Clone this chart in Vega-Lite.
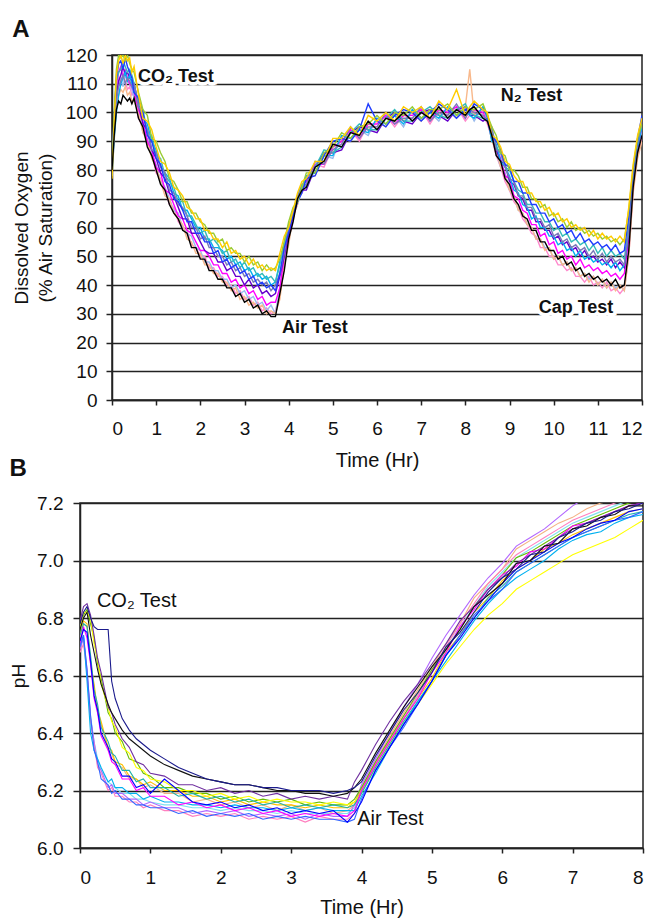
{
"$schema":"https://vega.github.io/schema/vega-lite/v6.json",
"background":"white",
"padding":{"left":8,"top":17,"right":0,"bottom":0},
"spacing":-15,
"resolve":{"scale":{"color":"independent"}},
"config":{
 "font":"Liberation Sans",
 "view":{"stroke":"#222","strokeWidth":1.5},
 "axis":{"domainColor":"#222","domainWidth":1.5,"tickColor":"#222","tickWidth":1.5,"gridColor":"#222","gridWidth":1.5,"gridOpacity":1,"labelColor":"#111","titleColor":"#111","labelFont":"Liberation Sans","titleFont":"Liberation Sans","titleFontWeight":"normal","labelFontSize":19,"titleFontSize":20},
 "title":{"anchor":"start","fontSize":24,"fontWeight":"bold","font":"Liberation Sans","color":"#111"}
},
"datasets":{
"doA":[
{"t":0,"k":80,"pe":78,"pk":79,"lb":82,"mg":81,"vi":80,"bl":83,"sl":79,"cy":78,"te":82,"gr":80,"go":77},
{"t":0.05,"k":92,"pe":90,"pk":95,"lb":96,"mg":98,"vi":94,"bl":99,"sl":93,"cy":91,"te":97,"gr":100,"go":96},
{"t":0.1,"k":101,"pe":103,"pk":107,"lb":108,"mg":110,"vi":106,"bl":112,"sl":104,"cy":100,"te":111,"gr":115,"go":113},
{"t":0.15,"k":104,"pe":106,"pk":112,"lb":110,"mg":114,"vi":111,"bl":117,"sl":109,"cy":106,"te":114,"gr":120,"go":118},
{"t":0.2,"k":103,"pe":108,"pk":110,"lb":112,"mg":116,"vi":113,"bl":118,"sl":111,"cy":110,"te":115,"gr":119,"go":120},
{"t":0.25,"k":106,"pe":107,"pk":113,"lb":109,"mg":112,"vi":116,"bl":115,"sl":113,"cy":112,"te":118,"gr":120,"go":117},
{"t":0.3,"k":105,"pe":109,"pk":111,"lb":113,"mg":115,"vi":113,"bl":119,"sl":110,"cy":114,"te":116,"gr":118,"go":120},
{"t":0.35,"k":104,"pe":106,"pk":108,"lb":111,"mg":112,"vi":114,"bl":116,"sl":112,"cy":111,"te":114,"gr":120,"go":118},
{"t":0.4,"k":105,"pe":107,"pk":109,"lb":110,"mg":110,"vi":112,"bl":114,"sl":111,"cy":113,"te":115,"gr":117,"go":119},
{"t":0.45,"k":103,"pe":104,"pk":106,"lb":108,"mg":109,"vi":111,"bl":112,"sl":109,"cy":110,"te":113,"gr":115,"go":114},
{"t":0.5,"k":105,"pe":104,"pk":107,"lb":105,"mg":107,"vi":110,"bl":107,"sl":110,"cy":107,"te":110,"gr":114,"go":116},
{"t":0.6,"k":98,"pe":100,"pk":98,"lb":102,"mg":101,"vi":103,"bl":105,"sl":102,"cy":105,"te":102,"gr":107,"go":106},
{"t":0.7,"k":95,"pe":93,"pk":95,"lb":93,"mg":97,"vi":96,"bl":100,"sl":99,"cy":98,"te":101,"gr":101,"go":98},
{"t":0.8,"k":88,"pe":90,"pk":89,"lb":91,"mg":90,"vi":94,"bl":92,"sl":94,"cy":96,"te":93,"gr":99,"go":97},
{"t":0.9,"k":85,"pe":84,"pk":86,"lb":85,"mg":87,"vi":87,"bl":90,"sl":87,"cy":90,"te":92,"gr":91,"go":94},
{"t":1.0,"k":80,"pe":81,"pk":79,"lb":82,"mg":81,"vi":84,"bl":84,"sl":86,"cy":87,"te":85,"gr":90,"go":88},
{"t":1.1,"k":75,"pe":76,"pk":77,"lb":76,"mg":79,"vi":79,"bl":82,"sl":81,"cy":81,"te":84,"gr":86,"go":83},
{"t":1.2,"k":73,"pe":71,"pk":73,"lb":74,"mg":73,"vi":77,"bl":76,"sl":79,"cy":79,"te":78,"gr":83,"go":82},
{"t":1.3,"k":68,"pe":70,"pk":68,"lb":70,"mg":72,"vi":72,"bl":75,"sl":73,"cy":77,"te":76,"gr":77,"go":79},
{"t":1.4,"k":65,"pe":65,"pk":67,"lb":66,"mg":68,"vi":71,"bl":70,"sl":72,"cy":72,"te":74,"gr":76,"go":74},
{"t":1.5,"k":63,"pe":63,"pk":62,"lb":65,"mg":64,"vi":67,"bl":69,"sl":68,"cy":71,"te":69,"gr":73,"go":73},
{"t":1.6,"k":59,"pe":61,"pk":60,"lb":60,"mg":63,"vi":63,"bl":66,"sl":67,"cy":66,"te":69,"gr":69,"go":71},
{"t":1.7,"k":58,"pe":56,"pk":59,"lb":58,"mg":59,"vi":63,"bl":62,"sl":64,"cy":66,"te":64,"gr":69,"go":67},
{"t":1.8,"k":53,"pe":55,"pk":54,"lb":57,"mg":58,"vi":58,"bl":62,"sl":60,"cy":63,"te":64,"gr":65,"go":66},
{"t":1.9,"k":53,"pe":51,"pk":53,"lb":53,"mg":55,"vi":58,"bl":58,"sl":60,"cy":60,"te":61,"gr":65,"go":63},
{"t":2.0,"k":49,"pe":51,"pk":50,"lb":52,"mg":52,"vi":55,"bl":58,"sl":56,"cy":60,"te":58,"gr":62,"go":63},
{"t":2.1,"k":49,"pe":47,"pk":50,"lb":48,"mg":52,"vi":52,"bl":55,"sl":57,"cy":56,"te":59,"gr":61,"go":59},
{"t":2.2,"k":45,"pe":47,"pk":46,"lb":48,"mg":50,"vi":51,"bl":55,"sl":53,"cy":56,"te":55,"gr":58,"go":59},
{"t":2.3,"k":45,"pe":44,"pk":46,"lb":45,"mg":47,"vi":51,"bl":51,"sl":53,"cy":53,"te":56,"gr":58,"go":56},
{"t":2.4,"k":42,"pe":44,"pk":43,"lb":45,"mg":47,"vi":48,"bl":52,"sl":50,"cy":53,"te":54,"gr":55,"go":56},
{"t":2.5,"k":42,"pe":41,"pk":43,"lb":42,"mg":44,"vi":48,"bl":48,"sl":50,"cy":52,"te":51,"gr":56,"go":53},
{"t":2.6,"k":39,"pe":41,"pk":40,"lb":42,"mg":44,"vi":45,"bl":49,"sl":47,"cy":49,"te":52,"gr":52,"go":55},
{"t":2.7,"k":39,"pe":38,"pk":40,"lb":39,"mg":41,"vi":46,"bl":46,"sl":48,"cy":50,"te":48,"gr":53,"go":51},
{"t":2.8,"k":36,"pe":39,"pk":37,"lb":40,"mg":42,"vi":43,"bl":47,"sl":45,"cy":47,"te":49,"gr":51,"go":52},
{"t":2.9,"k":37,"pe":35,"pk":38,"lb":37,"mg":39,"vi":43,"bl":44,"sl":46,"cy":48,"te":46,"gr":51,"go":49},
{"t":3.0,"k":34,"pe":36,"pk":35,"lb":38,"mg":40,"vi":40,"bl":45,"sl":43,"cy":45,"te":48,"gr":48,"go":50},
{"t":3.1,"k":35,"pe":33,"pk":36,"lb":35,"mg":37,"vi":42,"bl":42,"sl":44,"cy":46,"te":45,"gr":50,"go":47},
{"t":3.2,"k":32,"pe":34,"pk":33,"lb":36,"mg":38,"vi":39,"bl":43,"sl":41,"cy":43,"te":46,"gr":47,"go":49},
{"t":3.3,"k":33,"pe":32,"pk":34,"lb":33,"mg":35,"vi":40,"bl":40,"sl":42,"cy":44,"te":43,"gr":48,"go":46},
{"t":3.4,"k":30,"pe":33,"pk":31,"lb":34,"mg":36,"vi":37,"bl":41,"sl":40,"cy":42,"te":44,"gr":45,"go":47},
{"t":3.5,"k":31,"pe":30,"pk":32,"lb":31,"mg":33,"vi":38,"bl":39,"sl":41,"cy":43,"te":42,"gr":47,"go":45},
{"t":3.6,"k":29,"pe":31,"pk":30,"lb":33,"mg":34,"vi":36,"bl":40,"sl":38,"cy":40,"te":43,"gr":45,"go":46},
{"t":3.7,"k":29,"pe":30,"pk":31,"lb":30,"mg":34,"vi":37,"bl":38,"sl":40,"cy":41,"te":41,"gr":46,"go":45},
{"t":3.8,"k":37,"pe":35,"pk":37,"lb":39,"mg":39,"vi":43,"bl":44,"sl":44,"cy":48,"te":47,"gr":49,"go":51},
{"t":3.9,"k":45,"pe":47,"pk":46,"lb":48,"mg":50,"vi":50,"bl":53,"sl":51,"cy":54,"te":55,"gr":55,"go":57},
{"t":4.0,"k":56,"pe":54,"pk":56,"lb":55,"mg":57,"vi":59,"bl":58,"sl":60,"cy":59,"te":61,"gr":62,"go":60},
{"t":4.1,"k":62,"pe":64,"pk":63,"lb":64,"mg":63,"vi":65,"bl":64,"sl":65,"cy":66,"te":64,"gr":67,"go":66},
{"t":4.2,"k":70,"pe":68,"pk":70,"lb":68,"mg":70,"vi":69,"bl":69,"sl":71,"cy":69,"te":71,"gr":69,"go":72},
{"t":4.3,"k":73,"pe":74,"pk":72,"lb":73,"mg":75,"vi":73,"bl":72,"sl":74,"cy":73,"te":75,"gr":74,"go":76},
{"t":4.4,"k":74,"pe":77,"pk":75,"lb":78,"mg":76,"vi":73,"bl":77,"sl":75,"cy":78,"te":74,"gr":79,"go":77},
{"t":4.6,"k":81,"pe":78,"pk":82,"lb":79,"mg":82,"vi":81,"bl":78,"sl":83,"cy":79,"te":81,"gr":79,"go":83},
{"t":4.8,"k":83,"pe":86,"pk":81,"lb":85,"mg":82,"vi":86,"bl":85,"sl":82,"cy":85,"te":87,"gr":86,"go":83},
{"t":5.0,"k":89,"pe":86,"pk":88,"lb":84,"mg":88,"vi":86,"bl":90,"sl":87,"cy":85,"te":86,"gr":88,"go":91},
{"t":5.2,"k":88,"pe":91,"pk":89,"lb":92,"mg":90,"vi":87,"bl":91,"sl":89,"cy":92,"te":88,"gr":93,"go":91},
{"t":5.4,"k":93,"pe":90,"pk":94,"lb":91,"mg":94,"vi":93,"bl":90,"sl":95,"cy":91,"te":93,"gr":91,"go":95},
{"t":5.6,"k":92,"pe":95,"pk":90,"lb":94,"mg":91,"vi":95,"bl":94,"sl":91,"cy":94,"te":96,"gr":95,"go":92},
{"t":5.8,"k":97,"pe":94,"pk":96,"lb":92,"mg":96,"vi":94,"bl":103,"sl":95,"cy":93,"te":94,"gr":96,"go":99},
{"t":6.0,"k":94,"pe":97,"pk":95,"lb":98,"mg":96,"vi":93,"bl":97,"sl":95,"cy":98,"te":94,"gr":99,"go":97},
{"t":6.2,"k":98,"pe":95,"pk":99,"lb":96,"mg":99,"vi":98,"bl":95,"sl":100,"cy":96,"te":98,"gr":96,"go":100},
{"t":6.4,"k":97,"pe":100,"pk":95,"lb":99,"mg":96,"vi":100,"bl":99,"sl":96,"cy":99,"te":101,"gr":100,"go":97},
{"t":6.6,"k":100,"pe":97,"pk":99,"lb":95,"mg":99,"vi":97,"bl":101,"sl":98,"cy":96,"te":97,"gr":99,"go":102},
{"t":6.8,"k":97,"pe":100,"pk":98,"lb":101,"mg":99,"vi":96,"bl":100,"sl":98,"cy":101,"te":97,"gr":102,"go":100},
{"t":7.0,"k":100,"pe":97,"pk":101,"lb":98,"mg":101,"vi":100,"bl":97,"sl":102,"cy":98,"te":100,"gr":98,"go":102},
{"t":7.2,"k":98,"pe":101,"pk":96,"lb":100,"mg":97,"vi":101,"bl":100,"sl":97,"cy":100,"te":102,"gr":101,"go":98},
{"t":7.4,"k":102,"pe":99,"pk":101,"lb":97,"mg":101,"vi":99,"bl":103,"sl":100,"cy":98,"te":99,"gr":101,"go":104},
{"t":7.6,"k":98,"pe":101,"pk":99,"lb":102,"mg":100,"vi":97,"bl":101,"sl":99,"cy":102,"te":98,"gr":103,"go":101},
{"t":7.8,"k":101,"pe":98,"pk":102,"lb":99,"mg":102,"vi":101,"bl":98,"sl":103,"cy":99,"te":101,"gr":99,"go":108},
{"t":8.0,"k":99,"pe":102,"pk":97,"lb":101,"mg":98,"vi":102,"bl":101,"sl":98,"cy":101,"te":103,"gr":102,"go":99},
{"t":8.1,"k":101,"pe":115,"pk":99,"lb":100,"mg":101,"vi":99,"bl":100,"sl":101,"cy":99,"te":100,"gr":101,"go":102},
{"t":8.2,"k":102,"pe":99,"pk":101,"lb":97,"mg":101,"vi":99,"bl":103,"sl":100,"cy":98,"te":99,"gr":101,"go":104},
{"t":8.4,"k":98,"pe":101,"pk":99,"lb":102,"mg":100,"vi":97,"bl":101,"sl":99,"cy":102,"te":98,"gr":103,"go":101},
{"t":8.5,"k":97,"pe":98,"pk":96,"lb":99,"mg":97,"vi":98,"bl":99,"sl":97,"cy":98,"te":97,"gr":99,"go":100},
{"t":8.6,"k":92,"pe":90,"pk":91,"lb":93,"mg":91,"vi":93,"bl":92,"sl":95,"cy":90,"te":94,"gr":95,"go":92},
{"t":8.7,"k":85,"pe":87,"pk":85,"lb":86,"mg":88,"vi":87,"bl":90,"sl":87,"cy":89,"te":88,"gr":92,"go":91},
{"t":8.8,"k":83,"pe":81,"pk":81,"lb":81,"mg":84,"vi":83,"bl":87,"sl":86,"cy":83,"te":86,"gr":86,"go":88},
{"t":8.9,"k":77,"pe":78,"pk":76,"lb":79,"mg":78,"vi":82,"bl":82,"sl":81,"cy":81,"te":81,"gr":85,"go":83},
{"t":9.0,"k":75,"pe":73,"pk":73,"lb":73,"mg":77,"vi":76,"bl":81,"sl":77,"cy":78,"te":80,"gr":80,"go":82},
{"t":9.1,"k":70,"pe":71,"pk":69,"lb":71,"mg":71,"vi":75,"bl":76,"sl":76,"cy":73,"te":76,"gr":80,"go":78},
{"t":9.2,"k":68,"pe":66,"pk":67,"lb":66,"mg":70,"vi":71,"bl":76,"sl":71,"cy":72,"te":73,"gr":78,"go":76},
{"t":9.3,"k":64,"pe":65,"pk":63,"lb":65,"mg":66,"vi":70,"bl":72,"sl":71,"cy":68,"te":72,"gr":74,"go":76},
{"t":9.4,"k":63,"pe":61,"pk":61,"lb":61,"mg":65,"vi":66,"bl":72,"sl":67,"cy":67,"te":68,"gr":74,"go":72},
{"t":9.5,"k":59,"pe":60,"pk":58,"lb":60,"mg":61,"vi":66,"bl":68,"sl":67,"cy":63,"te":68,"gr":70,"go":72},
{"t":9.6,"k":59,"pe":56,"pk":57,"lb":56,"mg":61,"vi":62,"bl":68,"sl":63,"cy":64,"te":65,"gr":70,"go":69},
{"t":9.7,"k":55,"pe":56,"pk":53,"lb":56,"mg":57,"vi":62,"bl":65,"sl":63,"cy":60,"te":65,"gr":67,"go":69},
{"t":9.8,"k":55,"pe":52,"pk":53,"lb":53,"mg":58,"vi":59,"bl":65,"sl":60,"cy":60,"te":62,"gr":68,"go":66},
{"t":9.9,"k":52,"pe":53,"pk":50,"lb":53,"mg":54,"vi":59,"bl":62,"sl":61,"cy":57,"te":62,"gr":64,"go":67},
{"t":10.0,"k":52,"pe":49,"pk":50,"lb":49,"mg":55,"vi":56,"bl":63,"sl":57,"cy":57,"te":59,"gr":65,"go":64},
{"t":10.1,"k":49,"pe":50,"pk":47,"lb":50,"mg":51,"vi":57,"bl":60,"sl":58,"cy":54,"te":60,"gr":62,"go":65},
{"t":10.2,"k":50,"pe":47,"pk":47,"lb":47,"mg":52,"vi":54,"bl":61,"sl":55,"cy":55,"te":57,"gr":63,"go":62},
{"t":10.3,"k":47,"pe":48,"pk":45,"lb":48,"mg":49,"vi":55,"bl":58,"sl":56,"cy":52,"te":58,"gr":60,"go":63},
{"t":10.4,"k":48,"pe":45,"pk":46,"lb":45,"mg":50,"vi":52,"bl":59,"sl":53,"cy":53,"te":55,"gr":62,"go":60},
{"t":10.5,"k":45,"pe":46,"pk":43,"lb":46,"mg":47,"vi":53,"bl":56,"sl":54,"cy":50,"te":56,"gr":59,"go":61},
{"t":10.6,"k":46,"pe":43,"pk":43,"lb":43,"mg":49,"vi":50,"bl":58,"sl":52,"cy":52,"te":54,"gr":60,"go":59},
{"t":10.7,"k":43,"pe":44,"pk":41,"lb":44,"mg":46,"vi":52,"bl":55,"sl":53,"cy":49,"te":55,"gr":58,"go":60},
{"t":10.8,"k":44,"pe":41,"pk":43,"lb":42,"mg":47,"vi":49,"bl":56,"sl":50,"cy":50,"te":52,"gr":59,"go":57},
{"t":10.9,"k":42,"pe":43,"pk":40,"lb":43,"mg":45,"vi":50,"bl":54,"sl":52,"cy":48,"te":54,"gr":57,"go":59},
{"t":11.0,"k":43,"pe":40,"pk":41,"lb":40,"mg":46,"vi":48,"bl":55,"sl":49,"cy":49,"te":51,"gr":58,"go":56},
{"t":11.1,"k":41,"pe":42,"pk":39,"lb":42,"mg":44,"vi":49,"bl":53,"sl":51,"cy":47,"te":53,"gr":56,"go":58},
{"t":11.2,"k":42,"pe":39,"pk":41,"lb":39,"mg":45,"vi":47,"bl":54,"sl":48,"cy":48,"te":50,"gr":57,"go":56},
{"t":11.3,"k":40,"pe":41,"pk":38,"lb":41,"mg":43,"vi":49,"bl":52,"sl":50,"cy":46,"te":52,"gr":55,"go":57},
{"t":11.4,"k":42,"pe":38,"pk":39,"lb":39,"mg":44,"vi":46,"bl":54,"sl":48,"cy":48,"te":50,"gr":56,"go":55},
{"t":11.5,"k":39,"pe":40,"pk":37,"lb":40,"mg":42,"vi":48,"bl":51,"sl":49,"cy":45,"te":51,"gr":54,"go":57},
{"t":11.6,"k":40,"pe":38,"pk":39,"lb":38,"mg":44,"vi":46,"bl":52,"sl":47,"cy":47,"te":49,"gr":56,"go":55},
{"t":11.7,"k":52,"pe":50,"pk":50,"lb":51,"mg":56,"vi":58,"bl":64,"sl":59,"cy":59,"te":61,"gr":66,"go":67},
{"t":11.8,"k":74,"pe":72,"pk":73,"lb":75,"mg":76,"vi":77,"bl":80,"sl":78,"cy":77,"te":79,"gr":81,"go":82},
{"t":11.9,"k":86,"pe":84,"pk":85,"lb":87,"mg":88,"vi":88,"bl":91,"sl":89,"cy":88,"te":90,"gr":91,"go":92},
{"t":12.0,"k":92,"pe":90,"pk":91,"lb":94,"mg":95,"vi":96,"bl":99,"sl":97,"cy":95,"te":97,"gr":96,"go":98}
],
"phB":[
{"t":0,"nv":6.78,"bk":6.76,"dp":6.79,"vi":6.69,"pe":6.73,"pk":6.68,"mg":6.71,"bl":6.72,"ro":6.70,"cy":6.71,"lc":6.70,"te":6.74,"gr":6.77,"ye":6.76,"go":6.74},
{"t":0.05,"nv":6.82,"bk":6.80,"dp":6.84,"vi":6.73,"pe":6.78,"pk":6.71,"mg":6.77,"bl":6.76,"ro":6.74,"cy":6.74,"lc":6.73,"te":6.78,"gr":6.81,"ye":6.82,"go":6.79},
{"t":0.1,"nv":6.84,"bk":6.82,"dp":6.85,"vi":6.62,"pe":6.77,"pk":6.61,"mg":6.73,"bl":6.75,"ro":6.62,"cy":6.58,"lc":6.60,"te":6.77,"gr":6.83,"ye":6.82,"go":6.78},
{"t":0.15,"nv":6.80,"bk":6.74,"dp":6.81,"vi":6.45,"pe":6.64,"pk":6.44,"mg":6.64,"bl":6.65,"ro":6.46,"cy":6.40,"lc":6.46,"te":6.67,"gr":6.78,"ye":6.80,"go":6.65},
{"t":0.2,"nv":6.77,"bk":6.68,"dp":6.74,"vi":6.37,"pe":6.56,"pk":6.36,"mg":6.52,"bl":6.53,"ro":6.34,"cy":6.34,"lc":6.37,"te":6.55,"gr":6.73,"ye":6.71,"go":6.57},
{"t":0.25,"nv":6.76,"bk":6.62,"dp":6.66,"vi":6.29,"pe":6.47,"pk":6.28,"mg":6.47,"bl":6.48,"ro":6.30,"cy":6.31,"lc":6.31,"te":6.50,"gr":6.64,"ye":6.66,"go":6.48},
{"t":0.3,"nv":6.76,"bk":6.57,"dp":6.61,"vi":6.27,"pe":6.43,"pk":6.26,"mg":6.39,"bl":6.40,"ro":6.24,"cy":6.28,"lc":6.27,"te":6.42,"gr":6.59,"ye":6.57,"go":6.44},
{"t":0.4,"nv":6.76,"bk":6.50,"dp":6.49,"vi":6.21,"pe":6.34,"pk":6.20,"mg":6.34,"bl":6.35,"ro":6.22,"cy":6.23,"lc":6.23,"te":6.37,"gr":6.47,"ye":6.49,"go":6.35},
{"t":0.45,"nv":6.58,"bk":6.47,"dp":6.47,"vi":6.22,"pe":6.33,"pk":6.21,"mg":6.30,"bl":6.31,"ro":6.19,"cy":6.24,"lc":6.22,"te":6.33,"gr":6.45,"ye":6.44,"go":6.34},
{"t":0.5,"nv":6.52,"bk":6.45,"dp":6.43,"vi":6.19,"pe":6.29,"pk":6.18,"mg":6.29,"bl":6.30,"ro":6.20,"cy":6.21,"lc":6.21,"te":6.32,"gr":6.40,"ye":6.42,"go":6.30},
{"t":0.6,"nv":6.45,"bk":6.41,"dp":6.38,"vi":6.19,"pe":6.28,"pk":6.18,"mg":6.24,"bl":6.25,"ro":6.17,"cy":6.21,"lc":6.19,"te":6.27,"gr":6.37,"ye":6.35,"go":6.29},
{"t":0.7,"nv":6.41,"bk":6.38,"dp":6.35,"vi":6.17,"pe":6.24,"pk":6.16,"mg":6.24,"bl":6.25,"ro":6.17,"cy":6.19,"lc":6.19,"te":6.27,"gr":6.31,"ye":6.33,"go":6.25},
{"t":0.8,"nv":6.38,"bk":6.36,"dp":6.30,"vi":6.17,"pe":6.24,"pk":6.16,"mg":6.20,"bl":6.21,"ro":6.15,"cy":6.19,"lc":6.17,"te":6.23,"gr":6.30,"ye":6.28,"go":6.24},
{"t":0.9,"nv":6.36,"bk":6.34,"dp":6.29,"vi":6.15,"pe":6.21,"pk":6.14,"mg":6.21,"bl":6.22,"ro":6.15,"cy":6.17,"lc":6.17,"te":6.24,"gr":6.26,"ye":6.27,"go":6.22},
{"t":1.0,"nv":6.34,"bk":6.32,"dp":6.26,"vi":6.16,"pe":6.22,"pk":6.15,"mg":6.18,"bl":6.19,"ro":6.14,"cy":6.18,"lc":6.16,"te":6.21,"gr":6.25,"ye":6.24,"go":6.23},
{"t":1.2,"nv":6.31,"bk":6.29,"dp":6.25,"vi":6.14,"pe":6.19,"pk":6.13,"mg":6.18,"bl":6.24,"ro":6.14,"cy":6.16,"lc":6.15,"te":6.21,"gr":6.21,"ye":6.23,"go":6.20},
{"t":1.4,"nv":6.28,"bk":6.27,"dp":6.22,"vi":6.14,"pe":6.19,"pk":6.13,"mg":6.15,"bl":6.20,"ro":6.12,"cy":6.16,"lc":6.15,"te":6.18,"gr":6.21,"ye":6.20,"go":6.20},
{"t":1.6,"nv":6.26,"bk":6.25,"dp":6.22,"vi":6.12,"pe":6.16,"pk":6.11,"mg":6.16,"bl":6.16,"ro":6.13,"cy":6.15,"lc":6.14,"te":6.19,"gr":6.19,"ye":6.20,"go":6.18},
{"t":1.8,"nv":6.24,"bk":6.24,"dp":6.20,"vi":6.13,"pe":6.17,"pk":6.12,"mg":6.14,"bl":6.15,"ro":6.11,"cy":6.15,"lc":6.14,"te":6.17,"gr":6.19,"ye":6.18,"go":6.18},
{"t":2.0,"nv":6.23,"bk":6.23,"dp":6.21,"vi":6.12,"pe":6.15,"pk":6.11,"mg":6.15,"bl":6.16,"ro":6.12,"cy":6.14,"lc":6.13,"te":6.18,"gr":6.17,"ye":6.19,"go":6.16},
{"t":2.2,"nv":6.22,"bk":6.22,"dp":6.19,"vi":6.13,"pe":6.16,"pk":6.12,"mg":6.13,"bl":6.14,"ro":6.11,"cy":6.15,"lc":6.14,"te":6.16,"gr":6.18,"ye":6.17,"go":6.17},
{"t":2.4,"nv":6.22,"bk":6.22,"dp":6.20,"vi":6.11,"pe":6.14,"pk":6.10,"mg":6.14,"bl":6.15,"ro":6.12,"cy":6.14,"lc":6.13,"te":6.17,"gr":6.16,"ye":6.18,"go":6.15},
{"t":2.6,"nv":6.21,"bk":6.21,"dp":6.18,"vi":6.12,"pe":6.15,"pk":6.11,"mg":6.12,"bl":6.13,"ro":6.10,"cy":6.14,"lc":6.13,"te":6.15,"gr":6.17,"ye":6.16,"go":6.16},
{"t":2.8,"nv":6.21,"bk":6.20,"dp":6.19,"vi":6.11,"pe":6.13,"pk":6.10,"mg":6.13,"bl":6.14,"ro":6.11,"cy":6.13,"lc":6.12,"te":6.16,"gr":6.16,"ye":6.17,"go":6.15},
{"t":3.0,"nv":6.20,"bk":6.20,"dp":6.17,"vi":6.12,"pe":6.15,"pk":6.11,"mg":6.11,"bl":6.12,"ro":6.10,"cy":6.14,"lc":6.13,"te":6.14,"gr":6.17,"ye":6.16,"go":6.15},
{"t":3.2,"nv":6.20,"bk":6.19,"dp":6.18,"vi":6.10,"pe":6.13,"pk":6.09,"mg":6.12,"bl":6.13,"ro":6.11,"cy":6.13,"lc":6.12,"te":6.15,"gr":6.15,"ye":6.16,"go":6.14},
{"t":3.4,"nv":6.20,"bk":6.19,"dp":6.17,"vi":6.12,"pe":6.14,"pk":6.11,"mg":6.11,"bl":6.12,"ro":6.10,"cy":6.14,"lc":6.12,"te":6.14,"gr":6.16,"ye":6.15,"go":6.15},
{"t":3.6,"nv":6.19,"bk":6.18,"dp":6.18,"vi":6.11,"pe":6.12,"pk":6.10,"mg":6.12,"bl":6.13,"ro":6.10,"cy":6.13,"lc":6.12,"te":6.15,"gr":6.15,"ye":6.16,"go":6.14},
{"t":3.8,"nv":6.20,"bk":6.19,"dp":6.17,"vi":6.11,"pe":6.13,"pk":6.10,"mg":6.11,"bl":6.09,"ro":6.09,"cy":6.13,"lc":6.12,"te":6.14,"gr":6.15,"ye":6.15,"go":6.14},
{"t":3.9,"nv":6.21,"bk":6.21,"dp":6.23,"vi":6.15,"pe":6.15,"pk":6.12,"mg":6.13,"bl":6.12,"ro":6.10,"cy":6.13,"lc":6.14,"te":6.15,"gr":6.17,"ye":6.16,"go":6.16},
{"t":4.0,"nv":6.23,"bk":6.24,"dp":6.27,"vi":6.22,"pe":6.21,"pk":6.20,"mg":6.20,"bl":6.16,"ro":6.17,"cy":6.18,"lc":6.20,"te":6.19,"gr":6.21,"ye":6.19,"go":6.20},
{"t":4.2,"nv":6.32,"bk":6.33,"dp":6.36,"vi":6.31,"pe":6.30,"pk":6.30,"mg":6.29,"bl":6.27,"ro":6.27,"cy":6.26,"lc":6.29,"te":6.28,"gr":6.30,"ye":6.28,"go":6.29},
{"t":4.4,"nv":6.40,"bk":6.41,"dp":6.44,"vi":6.40,"pe":6.39,"pk":6.38,"mg":6.37,"bl":6.35,"ro":6.35,"cy":6.35,"lc":6.38,"te":6.36,"gr":6.38,"ye":6.36,"go":6.37},
{"t":4.6,"nv":6.48,"bk":6.49,"dp":6.51,"vi":6.49,"pe":6.47,"pk":6.46,"mg":6.45,"bl":6.43,"ro":6.42,"cy":6.43,"lc":6.45,"te":6.44,"gr":6.46,"ye":6.44,"go":6.45},
{"t":4.8,"nv":6.54,"bk":6.56,"dp":6.57,"vi":6.57,"pe":6.55,"pk":6.53,"mg":6.52,"bl":6.50,"ro":6.50,"cy":6.51,"lc":6.53,"te":6.51,"gr":6.54,"ye":6.50,"go":6.52},
{"t":5.0,"nv":6.61,"bk":6.63,"dp":6.64,"vi":6.66,"pe":6.63,"pk":6.62,"mg":6.61,"bl":6.58,"ro":6.58,"cy":6.58,"lc":6.61,"te":6.58,"gr":6.62,"ye":6.57,"go":6.59},
{"t":5.2,"nv":6.70,"bk":6.69,"dp":6.71,"vi":6.74,"pe":6.71,"pk":6.70,"mg":6.68,"bl":6.67,"ro":6.67,"cy":6.65,"lc":6.69,"te":6.67,"gr":6.69,"ye":6.64,"go":6.68},
{"t":5.4,"nv":6.75,"bk":6.76,"dp":6.79,"vi":6.81,"pe":6.78,"pk":6.78,"mg":6.77,"bl":6.73,"ro":6.74,"cy":6.72,"lc":6.77,"te":6.74,"gr":6.76,"ye":6.70,"go":6.74},
{"t":5.6,"nv":6.82,"bk":6.84,"dp":6.84,"vi":6.88,"pe":6.87,"pk":6.85,"mg":6.83,"bl":6.80,"ro":6.81,"cy":6.79,"lc":6.84,"te":6.80,"gr":6.84,"ye":6.76,"go":6.82},
{"t":5.8,"nv":6.89,"bk":6.88,"dp":6.90,"vi":6.94,"pe":6.92,"pk":6.92,"mg":6.90,"bl":6.86,"ro":6.86,"cy":6.85,"lc":6.91,"te":6.87,"gr":6.90,"ye":6.81,"go":6.87},
{"t":6.0,"nv":6.94,"bk":6.92,"dp":6.94,"vi":6.99,"pe":6.97,"pk":6.97,"mg":6.95,"bl":6.92,"ro":6.90,"cy":6.90,"lc":6.96,"te":6.91,"gr":6.95,"ye":6.85,"go":6.93},
{"t":6.2,"nv":6.97,"bk":6.99,"dp":6.99,"vi":7.05,"pe":7.04,"pk":7.02,"mg":6.98,"bl":6.97,"ro":6.96,"cy":6.94,"lc":7.01,"te":6.96,"gr":7.01,"ye":6.90,"go":6.97},
{"t":6.4,"nv":7.02,"bk":7.00,"dp":7.02,"vi":7.08,"pe":7.07,"pk":7.05,"mg":7.03,"bl":7.00,"ro":6.99,"cy":6.97,"lc":7.04,"te":6.99,"gr":7.03,"ye":6.93,"go":7.00},
{"t":6.6,"nv":7.03,"bk":7.05,"dp":7.05,"vi":7.11,"pe":7.10,"pk":7.08,"mg":7.04,"bl":7.03,"ro":7.02,"cy":7.00,"lc":7.07,"te":7.02,"gr":7.06,"ye":6.96,"go":7.04},
{"t":6.8,"nv":7.08,"bk":7.06,"dp":7.08,"vi":7.15,"pe":7.13,"pk":7.11,"mg":7.08,"bl":7.06,"ro":7.05,"cy":7.04,"lc":7.10,"te":7.05,"gr":7.09,"ye":6.99,"go":7.06},
{"t":7.0,"nv":7.10,"bk":7.11,"dp":7.11,"vi":7.19,"pe":7.15,"pk":7.14,"mg":7.12,"bl":7.08,"ro":7.08,"cy":7.07,"lc":7.13,"te":7.08,"gr":7.12,"ye":7.02,"go":7.09},
{"t":7.2,"nv":7.13,"bk":7.12,"dp":7.13,"vi":7.22,"pe":7.18,"pk":7.16,"mg":7.13,"bl":7.11,"ro":7.10,"cy":7.09,"lc":7.15,"te":7.10,"gr":7.14,"ye":7.04,"go":7.11},
{"t":7.4,"nv":7.14,"bk":7.15,"dp":7.15,"vi":7.24,"pe":7.20,"pk":7.18,"mg":7.15,"bl":7.13,"ro":7.12,"cy":7.10,"lc":7.17,"te":7.12,"gr":7.16,"ye":7.06,"go":7.13},
{"t":7.6,"nv":7.17,"bk":7.16,"dp":7.17,"vi":7.25,"pe":7.21,"pk":7.20,"mg":7.17,"bl":7.14,"ro":7.14,"cy":7.13,"lc":7.19,"te":7.14,"gr":7.18,"ye":7.08,"go":7.15},
{"t":7.8,"nv":7.18,"bk":7.19,"dp":7.19,"vi":7.26,"pe":7.23,"pk":7.22,"mg":7.19,"bl":7.17,"ro":7.15,"cy":7.15,"lc":7.21,"te":7.16,"gr":7.20,"ye":7.11,"go":7.17},
{"t":8.0,"nv":7.20,"bk":7.19,"dp":7.20,"vi":7.27,"pe":7.24,"pk":7.23,"mg":7.20,"bl":7.18,"ro":7.17,"cy":7.16,"lc":7.22,"te":7.17,"gr":7.21,"ye":7.14,"go":7.18}
]
},
"vconcat":[
{
 "spacing":-73,
 "hconcat":[
  {"width":1,"height":1,"view":{"stroke":null},"data":{"values":[{"t":0}]},"mark":{"type":"point","opacity":0},"encoding":{}},
  {
   "title":{"text":"A"},
   "width":530,"height":345,
   "encoding":{
    "x":{"field":"t","type":"quantitative","scale":{"domain":[0,12],"nice":false},"axis":{"values":[0,1,2,3,4,5,6,7,8,9,10,11,12],"grid":false,"title":"Time (Hr)","tickSize":5,"labelPadding":14,"titlePadding":12}},
    "y":{"field":"value","type":"quantitative","scale":{"domain":[0,120],"nice":false},"axis":{"values":[0,10,20,30,40,50,60,70,80,90,100,110,120],"grid":true,"title":["Dissolved Oxygen","(% Air Saturation)"],"tickSize":6,"labelPadding":9,"titlePadding":10,"titleFontSize":19,"titleLineHeight":24}}
   },
   "layer":[
    {"data":{"values":[{"t":0.59,"value":112.5,"label":"CO₂ Test"},{"t":9.66,"value":32,"label":"Cap Test"}]},
     "mark":{"type":"text","align":"left","baseline":"middle","fontSize":18,"fontWeight":"bold","fill":"white","stroke":"white","strokeWidth":7},
     "encoding":{"text":{"field":"label"}}},
    {"data":{"name":"doA"},
     "transform":[{"fold":["pk","lb","pe","mg","vi","cy","te","sl","bl","gr","go","k"],"as":["series","value"]}],
     "mark":{"type":"line","strokeWidth":1.4,"clip":true},
     "encoding":{"color":{"field":"series","type":"nominal","legend":null,"scale":{"domain":["pk","lb","pe","mg","vi","cy","te","sl","bl","gr","go","k"],"range":["#ff88cc","#99bbee","#f8b88b","#ff00ff","#6600cc","#00b0f0","#33bbbb","#7a7ab8","#1f3cff","#99cc33","#ffcc00","#000000"]}}}},
    {"data":{"values":[{"t":0.59,"value":112.5,"label":"CO₂ Test"},{"t":8.8,"value":105.6,"label":"N₂ Test"},{"t":3.85,"value":25,"label":"Air Test"},{"t":9.66,"value":32,"label":"Cap Test"}]},
     "mark":{"type":"text","align":"left","baseline":"middle","fontSize":18,"fontWeight":"bold","fill":"#111"},
     "encoding":{"text":{"field":"label"}}}
   ]
  }
 ]
},
{
 "title":{"text":"B","offset":13},
 "width":563,"height":345,
 "encoding":{
  "x":{"field":"t","type":"quantitative","scale":{"domain":[0,8],"nice":false},"axis":{"values":[0,1,2,3,4,5,6,7,8],"grid":false,"title":"Time (Hr)","tickSize":5,"labelPadding":15,"titlePadding":10}},
  "y":{"field":"value","type":"quantitative","scale":{"domain":[6,7.2],"nice":false,"zero":false},"axis":{"values":[6.0,6.2,6.4,6.6,6.8,7.0,7.2],"format":".1f","grid":true,"title":"pH","tickSize":7,"labelPadding":10,"titlePadding":8,"titleFontSize":19}}
 },
 "layer":[
  {"data":{"name":"phB"},
   "transform":[{"fold":["lc","pe","vi","pk","go","gr","ye","te","cy","mg","ro","bl","dp","bk","nv"],"as":["series","value"]}],
   "mark":{"type":"line","strokeWidth":1.1,"clip":true},
   "encoding":{"color":{"field":"series","type":"nominal","legend":null,"scale":{"domain":["lc","pe","vi","pk","go","gr","ye","te","cy","mg","ro","bl","dp","bk","nv"],"range":["#80e0f0","#f4b183","#b266ff","#ff7fbf","#ffc000","#66bb00","#ffff00","#20b2aa","#00b0f0","#ff00ff","#3366ff","#0000ff","#7030a0","#111111","#1a1a8c"]}}}},
  {"data":{"values":[{"t":0.24,"value":6.86,"label":"CO₂ Test"},{"t":3.94,"value":6.1,"label":"Air Test"}]},
   "mark":{"type":"text","align":"left","baseline":"middle","fontSize":20,"fill":"#111"},
   "encoding":{"text":{"field":"label"}}}
 ]
}
]
}
